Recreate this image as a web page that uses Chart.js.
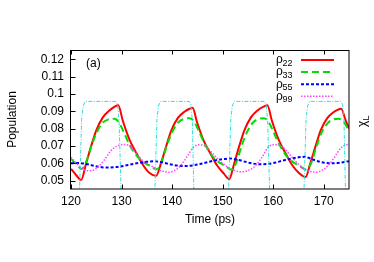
<!DOCTYPE html>
<html>
<head>
<meta charset="utf-8">
<script src="https://cdn.jsdelivr.net/npm/chart.js@4.4.1/dist/chart.umd.min.js"></script>
<style>
html, body { margin: 0; padding: 0; background: #fff; }
canvas { display: block; }
</style>
</head>
<body>
<canvas id="myChart" width="374" height="262"></canvas>
<script>
// [time (ps), population]
const rho22 = [[120,0.0567],[121,0.0532],[122,0.0503],
  [123,0.0600],[124,0.0700],[125,0.0790],[126.3,0.0865],[127.6,0.0905],[128.65,0.0927],[129.35,0.0935],
  [130.25,0.0845],[131.55,0.0738],[132.95,0.0657],[134.25,0.0590],[135.55,0.0543],[136.85,0.0527],
  [137.85,0.0605],[138.85,0.0700],[139.85,0.0790],[141.15,0.0862],[142.45,0.0897],[143.35,0.0913],[144.05,0.0920],
  [144.95,0.0835],[146.25,0.0730],[147.65,0.0652],[148.95,0.0585],[150.25,0.0540],[151.3,0.0508],
  [152.3,0.0600],[153.3,0.0700],[154.3,0.0790],[155.6,0.0865],[156.9,0.0905],[158.15,0.0927],[158.85,0.0935],
  [159.75,0.0845],[161.05,0.0738],[162.45,0.0657],[163.75,0.0590],[165.05,0.0545],[166.4,0.0520],
  [167.4,0.0605],[168.4,0.0700],[169.4,0.0790],[170.7,0.0860],[172.0,0.0896],[172.75,0.0908],[173.45,0.0914],
  [174.3,0.0850],[175,0.0800]];

const rho33 = [[120,0.0625],[121.2,0.0590],[122.1,0.0567],
  [123.1,0.0615],[124.1,0.0705],[125.1,0.0778],[126.3,0.0835],[127.4,0.0853],[128.6,0.0857],
  [129.5,0.0835],[130.5,0.0775],[131.7,0.0700],[133.1,0.0640],[134.4,0.0605],[135.6,0.0585],[137.0,0.0565],
  [138.0,0.0615],[139.0,0.0705],[140.0,0.0778],[141.2,0.0835],[142.3,0.0855],[143.5,0.0860],
  [144.4,0.0838],[145.4,0.0778],[146.6,0.0703],[148.0,0.0640],[149.3,0.0605],[150.5,0.0585],[151.8,0.0562],
  [152.8,0.0612],[153.8,0.0705],[154.8,0.0778],[156.0,0.0835],[157.1,0.0855],[158.2,0.0860],
  [159.1,0.0838],[160.1,0.0778],[161.3,0.0703],[162.7,0.0640],[164.0,0.0605],[165.2,0.0585],[166.5,0.0563],
  [167.5,0.0600],[168.5,0.0690],[169.6,0.0778],[170.8,0.0832],[171.8,0.0852],[172.9,0.0857],
  [173.9,0.0840],[175,0.0790]];

const rho55 = [[120,0.0600],[121.5,0.0601],[123,0.0596],[124.5,0.0585],[126,0.0577],[127.5,0.0575],
  [129,0.0578],[130.5,0.0585],[132,0.0594],[133.5,0.0602],[135,0.0608],[136.5,0.0611],[138,0.0605],
  [139.5,0.0594],[141,0.0587],[142.5,0.0584],[144,0.0587],[145.5,0.0595],[147,0.0606],[148.5,0.0616],
  [150,0.0623],[151.5,0.0627],[153,0.0620],[154.5,0.0608],[156,0.0598],[157.5,0.0594],[159,0.0596],
  [160.5,0.0604],[162,0.0616],[163.5,0.0626],[165,0.0634],[166.3,0.0637],[167.5,0.0625],[169,0.0610],
  [170.5,0.0601],[172,0.0600],[173.5,0.0604],[175,0.0612]];

const rho99 = [[120,0.0635],[121,0.0602],[122,0.0575],[123.3,0.0556],[124.3,0.0558],[125.4,0.0580],
  [126.5,0.0615],[127.8,0.0668],[129.1,0.0700],[130.3,0.0708],[131.4,0.0703],[132.6,0.0667],[134.0,0.0620],
  [135.5,0.0590],[136.9,0.0568],[138.2,0.0553],[139.5,0.0548],[140.6,0.0560],[141.8,0.0590],[143.1,0.0645],
  [144.3,0.0695],[145.4,0.0706],[146.6,0.0698],[147.9,0.0660],[149.5,0.0612],[150.9,0.0580],[152.2,0.0560],
  [153.6,0.0550],[154.8,0.0555],[156.2,0.0578],[157.7,0.0630],[159.2,0.0698],[160.5,0.0707],[161.8,0.0695],
  [163.2,0.0652],[164.8,0.0600],[166.2,0.0565],[167.4,0.0552],[168.5,0.0548],[169.6,0.0558],[170.8,0.0585],
  [172.0,0.0629],[173.3,0.0685],[174.3,0.0705],[175,0.0710]];

// laser envelope, drawn on the same scale (goes to zero off the bottom)
const chiL = [[120,0],[121.3,0],[121.7,0.045],[122.1,0.085],[122.4,0.093],[122.8,0.0957],
  [128.9,0.0957],[129.2,0.094],[129.5,0.085],[129.9,0.045],[130.3,0],
  [136.2,0],[136.6,0.045],[137.0,0.085],[137.3,0.093],[137.7,0.0957],
  [143.4,0.0957],[143.7,0.094],[144.0,0.085],[144.3,0.045],[144.7,0],
  [150.8,0],[151.2,0.045],[151.6,0.085],[151.9,0.093],[152.3,0.0957],
  [158.3,0.0957],[158.6,0.094],[158.9,0.085],[159.3,0.045],[159.7,0],
  [165.7,0],[166.1,0.045],[166.5,0.085],[166.8,0.093],[167.2,0.0957],
  [173.4,0.0957],[173.7,0.094],[174.0,0.085],[174.3,0.045],[174.7,0]];

const xTicks = [120, 130, 140, 150, 160, 170];
const yTicks = [0.05, 0.06, 0.07, 0.08, 0.09, 0.1, 0.11, 0.12];
const yTickLabels = ['0.05', '0.06', '0.07', '0.08', '0.09', '0.1', '0.11', '0.12'];

const FONT = '"Liberation Sans", Arial, sans-serif';

function toXY(arr) {
    return arr.map(p => ({ x: p[0], y: p[1] }));
}

const framePlugin = {
    id: 'frame',
    afterDraw(chart) {
        const ctx = chart.ctx;
        const a = chart.chartArea;
        const xs = chart.scales.x, ys = chart.scales.y;
        ctx.save();
        ctx.strokeStyle = '#000';
        ctx.lineWidth = 1;
        ctx.setLineDash([]);
        ctx.strokeRect(a.left - 0.5, a.top + 0.5, a.right - a.left + 0.5, a.bottom - a.top - 0.5);

        // inward ticks, mirrored on top
        ctx.beginPath();
        xTicks.forEach(v => {
            const px = Math.round(xs.getPixelForValue(v)) + 0.5;
            ctx.moveTo(px, a.bottom); ctx.lineTo(px, a.bottom - 4.5);
            ctx.moveTo(px, a.top); ctx.lineTo(px, a.top + 4.5);
        });
        yTicks.forEach(v => {
            const py = Math.round(ys.getPixelForValue(v)) + 0.5;
            ctx.moveTo(a.left, py); ctx.lineTo(a.left + 4.5, py);
        });
        ctx.stroke();

        // key
        ctx.fillStyle = '#000';
        ctx.textBaseline = 'alphabetic';
        ctx.textAlign = 'left';
        chart.data.datasets.slice(0, 4).forEach((ds, i) => {
            const by = 63.3 + i * 12.1;
            ctx.font = '12px ' + FONT;
            ctx.fillText(ds.label.charAt(0), 276, by);
            ctx.font = '9px ' + FONT;
            ctx.fillText(ds.label.slice(1), 282.5, by + 2.5);
            ctx.beginPath();
            ctx.strokeStyle = ds.borderColor;
            ctx.lineWidth = ds.borderWidth;
            ctx.setLineDash(ds.borderDash || []);
            ctx.moveTo(301, by - 3.3);
            ctx.lineTo(334, by - 3.3);
            ctx.stroke();
        });
        ctx.setLineDash([]);

        ctx.font = '12px ' + FONT;
        ctx.fillText('(a)', 86, 67);

        // right axis label
        ctx.translate(364, 121);
        ctx.rotate(-Math.PI / 2);
        ctx.font = '12px ' + FONT;
        ctx.fillText('\u03c7', -6, 2);
        ctx.font = '9px ' + FONT;
        ctx.fillText('L', 0.5, 4.5);
        ctx.restore();
    }
};

const ctx = document.getElementById('myChart');

new Chart(ctx, {
    type: 'line',
    data: {
        datasets: [
            { label: '\u03c122', data: toXY(rho22), borderColor: '#ff0000', borderWidth: 2, order: 5 },
            { label: '\u03c133', data: toXY(rho33), borderColor: '#00dd00', borderWidth: 2, borderDash: [7, 4], order: 4 },
            { label: '\u03c155', data: toXY(rho55), borderColor: '#0000ff', borderWidth: 2, borderDash: [3, 2], order: 3 },
            { label: '\u03c199', data: toXY(rho99), borderColor: '#ff44ff', borderWidth: 1.5, borderDash: [1.5, 1.5], order: 2 },
            { label: '\u03c7L', data: toXY(chiL), borderColor: '#33dddd', borderWidth: 1, borderDash: [4, 1.5, 1, 1.5], order: 1, cubicInterpolationMode: 'default', tension: 0 }
        ]
    },
    options: {
        responsive: false,
        animation: false,
        layout: {
            padding: { left: 0, right: 25, top: 50, bottom: 0 }
        },
        plugins: {
            legend: { display: false },
            tooltip: { enabled: false }
        },
        elements: {
            point: { radius: 0 },
            line: { cubicInterpolationMode: 'monotone', fill: false }
        },
        scales: {
            x: {
                type: 'linear',
                min: 120,
                max: 175,
                grid: { display: false, drawTicks: false },
                border: { display: false },
                afterBuildTicks: s => { s.ticks = xTicks.map(v => ({ value: v })); },
                afterFit: s => { s.height = 73; },
                ticks: {
                    padding: 5.5,
                    color: '#000',
                    maxRotation: 0,
                    font: { family: FONT, size: 12 },
                    callback: v => String(v)
                },
                title: {
                    display: true,
                    text: 'Time (ps)',
                    color: '#000',
                    font: { family: FONT, size: 12 },
                    padding: { top: 0, bottom: 35.3 }
                }
            },
            y: {
                type: 'linear',
                min: 0.0451,
                max: 0.1254,
                grid: { display: false, drawTicks: false },
                border: { display: false },
                afterBuildTicks: s => { s.ticks = yTicks.map(v => ({ value: v })); },
                afterFit: s => { s.width = 71; },
                ticks: {
                    padding: 7,
                    color: '#000',
                    font: { family: FONT, size: 12 },
                    callback: (v, i) => yTickLabels[i]
                },
                title: {
                    display: true,
                    text: 'Population',
                    color: '#000',
                    font: { family: FONT, size: 12 },
                    padding: { top: 5.5, bottom: 0 }
                }
            }
        }
    },
    plugins: [framePlugin]
});
</script>
</body>
</html>
